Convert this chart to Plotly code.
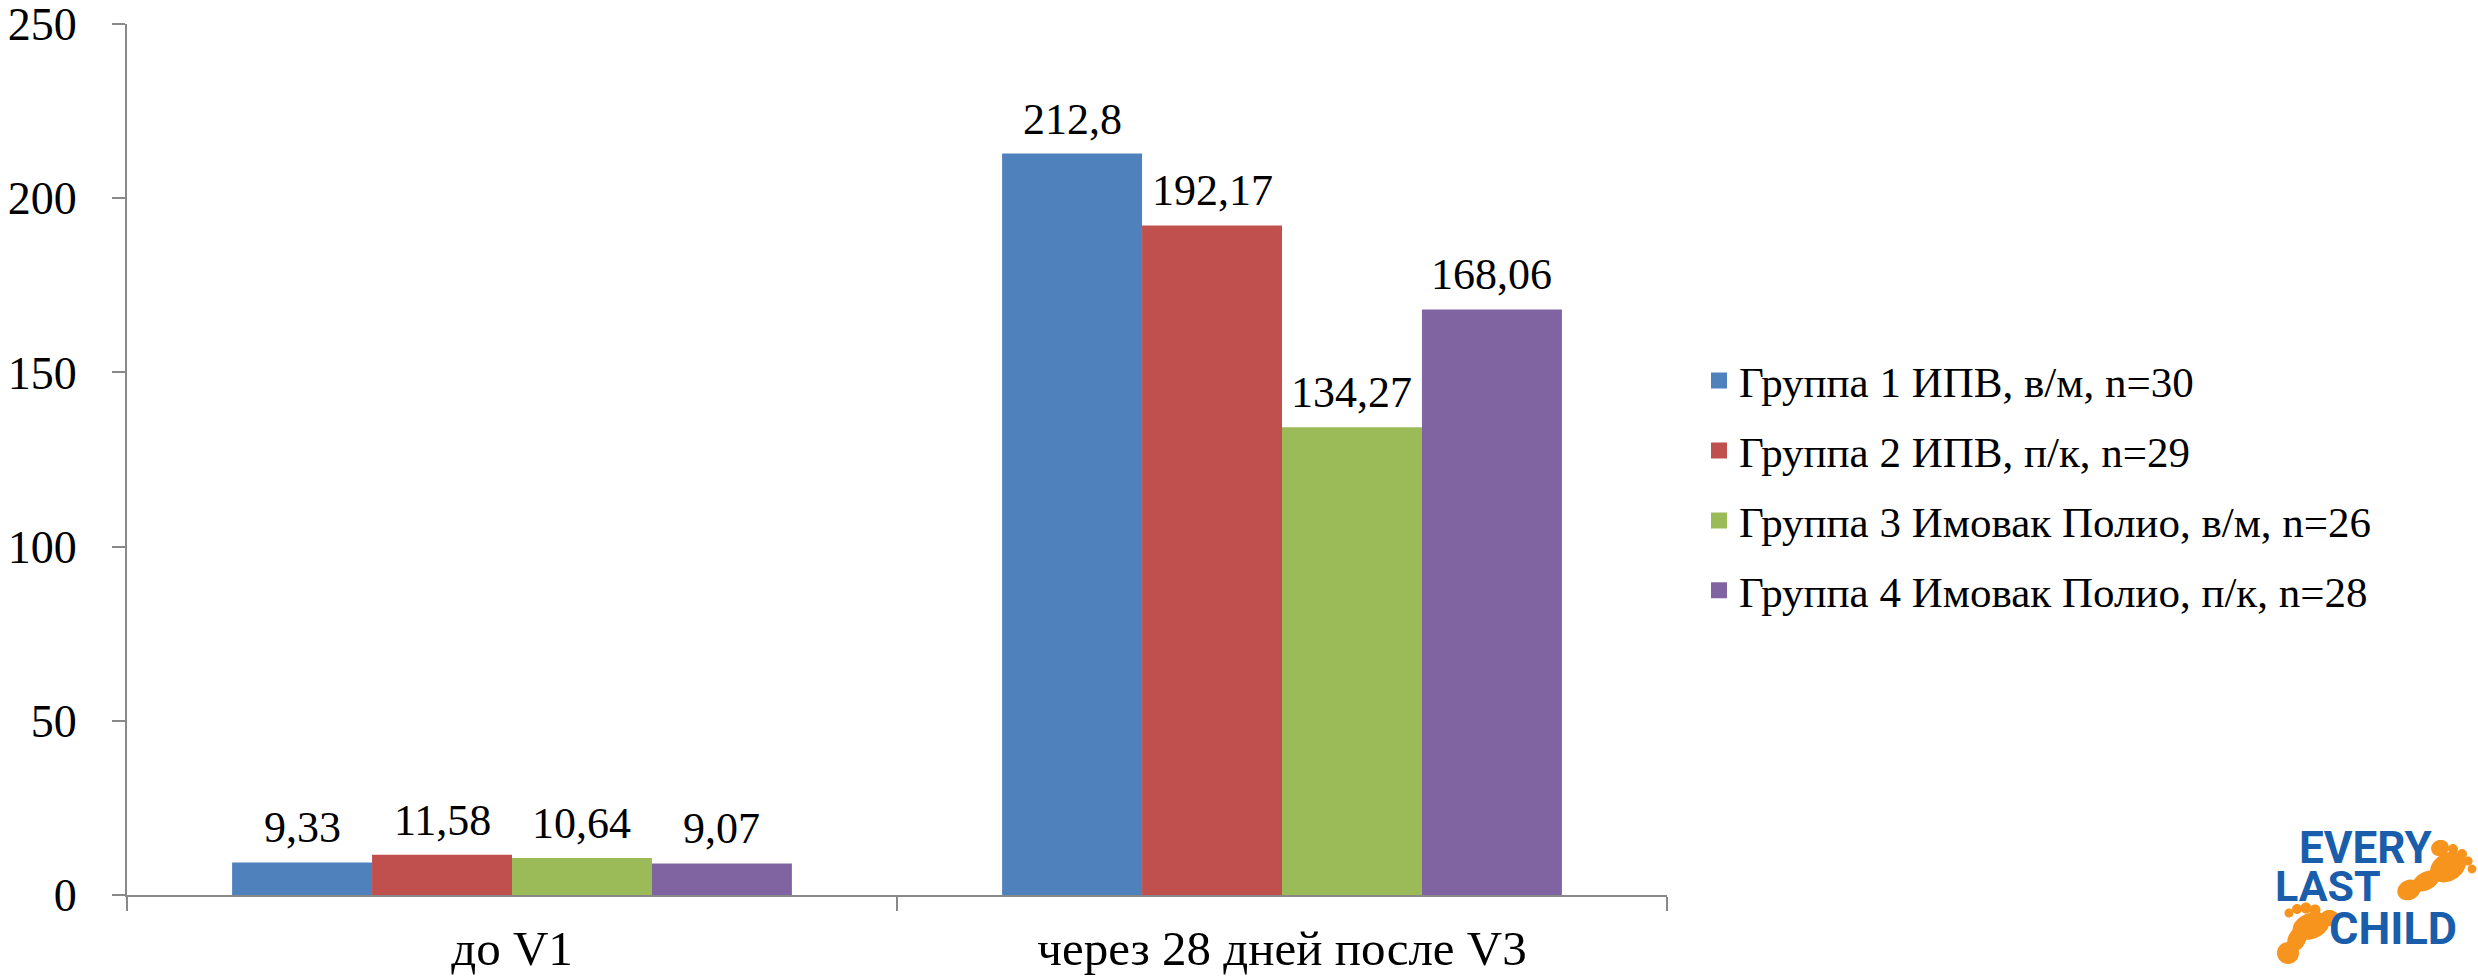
import numpy as np
import plotly.graph_objects as go

# Data
categories = ["до V1", "через 28 дней после V3"]
series_names = [
    "Группа 1 ИПВ, в/м, n=30",
    "Группа 2 ИПВ, п/к, n=29",
    "Группа 3 Имовак Полио, в/м, n=26",
    "Группа 4 Имовак Полио, п/к, n=28",
]
group1 = [9.33, 212.8]
group2 = [11.58, 192.17]
group3 = [10.64, 134.27]
group4 = [9.07, 168.06]
y_ticks = [0, 50, 100, 150, 200, 250]

series_values = [group1, group2, group3, group4]
colors = ["#4F81BD", "#C0504D", "#9BBB59", "#8064A2"]

W, H = 2478, 976
ML, MR, MT, MB = 127, 811, 24, 81
FONT = "Liberation Serif, Times New Roman, serif"
BARGAP = 0.273


def fmt(v):
    s = f"{v:.2f}".rstrip("0").rstrip(".")
    return s.replace(".", ",")


fig = go.Figure()
for name, vals, col in zip(series_names, series_values, colors):
    fig.add_trace(go.Bar(
        x=categories, y=vals, name=name, showlegend=False,
        marker=dict(color=col, line=dict(width=0)),
    ))
# legend entries drawn as square swatches
for k, (name, col) in enumerate(zip(series_names, colors)):
    fig.add_trace(go.Scatter(
        x=[None], y=[None], mode="markers", name=name, legendgroup=f"g{k}",
        marker=dict(symbol="square", size=16, color=col, line=dict(width=0)),
    ))

# value labels above each bar
n = len(series_values)
bw = (1 - BARGAP) / n
for j, vals in enumerate(series_values):
    for i, v in enumerate(vals):
        fig.add_annotation(
            x=i + (j - (n - 1) / 2) * bw, y=v, xref="x", yref="y",
            text=fmt(v), showarrow=False, yanchor="bottom", yshift=8,
            font=dict(family=FONT, size=44, color="#000000"),
        )

# logo helpers (pixel -> paper)
pw = W - ML - MR
ph = H - MT - MB


def px(xp):
    return (xp - ML) / pw


def py(yp):
    return (H - MB - yp) / ph


def ellipse_path(cx, cy, a, b, ang_deg, npts=40):
    t = np.linspace(0, 2 * np.pi, npts, endpoint=False)
    ang = np.deg2rad(ang_deg)
    xs = cx + a * np.cos(t) * np.cos(ang) - b * np.sin(t) * np.sin(ang)
    ys = cy + a * np.cos(t) * np.sin(ang) + b * np.sin(t) * np.cos(ang)
    pts = [f"{px(x):.5f},{py(y):.5f}" for x, y in zip(xs, ys)]
    return "M" + " L".join(pts) + " Z"


ORANGE = "#F7941D"
BLUE = "#1A5EAB"
blobs = [
    # upper-right foot: heel, arch, ball, toes
    (2409, 890, 12, 10, -25), (2426, 881, 15, 9, -28), (2448, 867, 19, 14, -30),
    (2440, 848, 9, 8, -20), (2453, 849, 5, 5, 0), (2462, 854, 5, 5, 0),
    (2468, 861, 4.6, 4.6, 0), (2472, 869, 4.4, 4.4, 0),
    # lower-left foot: heel, arch, ball, toes
    (2288, 953, 11, 11, 0), (2297, 939, 13, 9, -65), (2311, 926, 19, 13, -20),
    (2289, 913, 4.5, 4.5, 0), (2297, 909, 5, 5, 0), (2306, 908, 5.5, 5.5, 0),
    (2315, 910, 5.5, 5.5, 0), (2330, 918, 9.5, 8, 15),
]
shapes = [dict(type="path", path=ellipse_path(*b), xref="paper", yref="paper",
               fillcolor=ORANGE, line=dict(width=0)) for b in blobs]

LOGO_FONT = "Liberation Sans Narrow, Roboto, Arial Narrow, sans-serif"
for txt, x, y, size in [("EVERY", 2365, 848, 44), ("LAST", 2328, 886, 43), ("CHILD", 2393, 928, 45)]:
    fig.add_annotation(x=px(x), y=py(y), xref="paper", yref="paper", text=f"<b>{txt}</b>",
                       showarrow=False, xanchor="center", yanchor="middle",
                       font=dict(family=LOGO_FONT, size=size, color=BLUE))

fig.update_layout(
    width=W, height=H,
    margin=dict(l=ML, r=MR, t=MT, b=MB, pad=0),
    paper_bgcolor="white", plot_bgcolor="white",
    barmode="group", bargap=BARGAP, bargroupgap=0,
    font=dict(family=FONT, size=46, color="#000000"),
    shapes=shapes,
    legend=dict(
        x=1.0 + (1699 - (W - MR)) / pw, y=py(381) + 0.04, xanchor="left", yanchor="top",
        font=dict(family=FONT, size=43), itemwidth=30, tracegroupgap=11,
        bgcolor="rgba(0,0,0,0)", traceorder="grouped", itemsizing="trace",
    ),
    showlegend=True,
)
fig.update_xaxes(
    type="category", range=[-0.5, 1.5], showline=True, linecolor="#898989", linewidth=2,
    ticks="outside", tickson="boundaries", ticklen=14, tickcolor="#898989", tickwidth=2,
    showgrid=False, zeroline=False, ticklabelstandoff=9, automargin=False,
    tickfont=dict(family=FONT, size=49),
)
fig.update_yaxes(
    range=[0, 250], tickvals=y_ticks, showline=True, linecolor="#898989", linewidth=2,
    ticks="outside", ticklen=13, tickcolor="#898989", tickwidth=2,
    showgrid=False, zeroline=False, ticklabelstandoff=26, automargin=False,
    ticklabeloverflow="allow", tickfont=dict(family=FONT, size=46),
)

fig.write_html("out.html")
